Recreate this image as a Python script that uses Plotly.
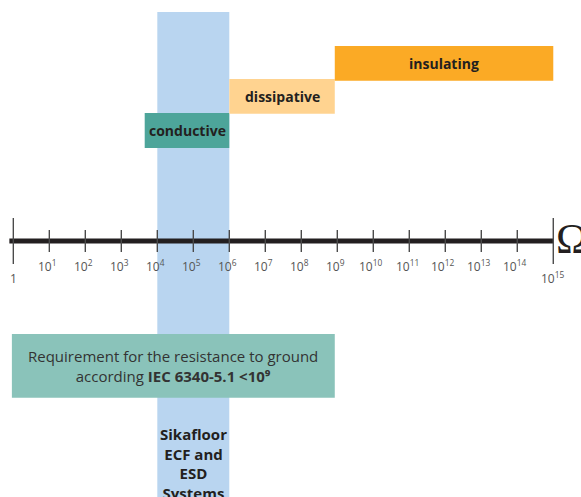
import plotly.graph_objects as go

# resistance scale in decades: 10^0 .. 10^15 ohm
decades = list(range(0, 16))
tick_labels = ["1"] + [f"10<sup>{d}</sup>" for d in decades[1:]]

# ranges (log10 of ohm)
band_names = ["Sikafloor", "conductive", "dissipative", "insulating", "requirement"]
band_start = [4.0, 3.65, 6.0, 8.93, -0.04]
band_end = [6.0, 6.0, 8.93, 15.0, 8.93]
band_colors = ["#b9d5f0", "#4da59a", "#ffd390", "#fbaa25", "#8ac3ba"]

# vertical placement (pixel rows, y axis runs top-down)
band_y = [256, 130.5, 96.3, 63.3, 365.8]
band_h = [488, 35, 34.7, 34.7, 63.7]

FONT = "Open Sans"
TEXT = "#231f20"
AXIS_Y = 241

fig = go.Figure()

fig.add_trace(go.Bar(
    orientation="h",
    base=band_start,
    x=[e - s for s, e in zip(band_start, band_end)],
    y=band_y,
    width=band_h,
    marker=dict(color=band_colors, line=dict(width=0)),
    hoverinfo="skip",
))

# main axis line
fig.add_trace(go.Scatter(
    x=[-0.11, 15], y=[AXIS_Y, AXIS_Y], mode="lines",
    line=dict(color="#231f20", width=5), hoverinfo="skip",
))

# tick marks crossing the line, long ones at both ends
tx, ty = [], []
for d in decades:
    half = 23 if d in (0, 15) else 11
    tx += [d, d, None]
    ty += [AXIS_Y - half, AXIS_Y + half, None]
fig.add_trace(go.Scatter(
    x=tx, y=ty, mode="lines",
    line=dict(color="#4a4a4a", width=1.4), hoverinfo="skip",
))

ann = []
for d, lab in zip(decades, tick_labels):
    end = d in (0, 15)
    ann.append(dict(
        x=d - (0 if end else 0.06), y=278 if end else 266, text=lab, showarrow=False,
        font=dict(family=FONT, size=12, color="#555555"),
        xanchor="center", yanchor="middle",
    ))

ann.append(dict(
    x=15.02, y=AXIS_Y - 3, text="Ω", showarrow=False, xanchor="left", yanchor="middle",
    font=dict(family="Liberation Serif", size=43, color=TEXT),
))

for name in ["conductive", "dissipative", "insulating"]:
    i = band_names.index(name)
    ann.append(dict(
        x=(band_start[i] + band_end[i]) / 2, y=band_y[i], text=f"<b>{name}</b>",
        showarrow=False, font=dict(family=FONT, size=14, color=TEXT),
        xanchor="center", yanchor="middle",
    ))

i = band_names.index("requirement")
ann.append(dict(
    x=(band_start[i] + band_end[i]) / 2, y=band_y[i],
    text="Requirement for the resistance to ground<br>according <b>IEC 6340-5.1 &lt;10⁹</b>",
    showarrow=False, font=dict(family=FONT, size=15, color="#333333"),
    xanchor="center", yanchor="middle", align="center",
))

i = band_names.index("Sikafloor")
ann.append(dict(
    x=(band_start[i] + band_end[i]) / 2, y=463,
    text="<b>Sikafloor<br>ECF and<br>ESD<br>Systems</b>",
    showarrow=False, font=dict(family=FONT, size=15, color=TEXT),
    xanchor="center", yanchor="middle", align="center",
))

fig.update_layout(
    width=581, height=497,
    margin=dict(l=0, r=0, t=0, b=0),
    paper_bgcolor="white", plot_bgcolor="white",
    showlegend=False,
    xaxis=dict(range=[-0.37, 15.77], visible=False, fixedrange=True),
    yaxis=dict(range=[497, 0], visible=False, fixedrange=True),
    annotations=ann,
)

# drop the browser's default body margin so the figure sits at the page corner
fig.write_html(
    "out.html",
    config={"displayModeBar": False},
    post_script="document.body.style.margin='0';",
)
